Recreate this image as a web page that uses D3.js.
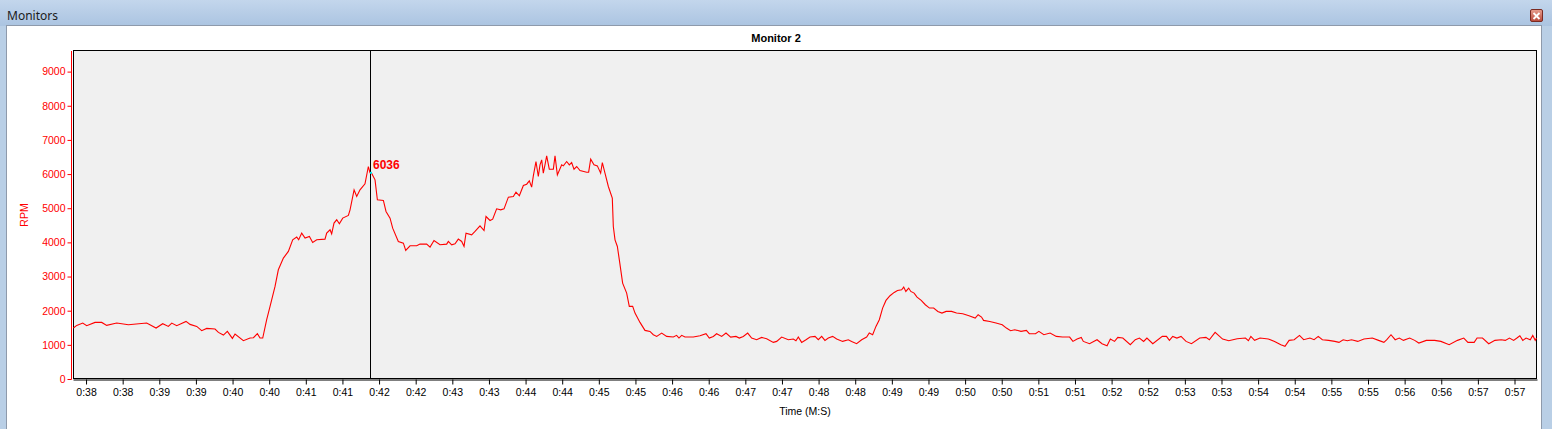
<!DOCTYPE html>
<html><head><meta charset="utf-8">
<script src="https://cdn.jsdelivr.net/npm/d3@7"></script>
<style>html,body{margin:0;padding:0;overflow:hidden;background:#b9cfe6}</style>
</head><body>
<script>
// ---- data ----
const timeSec = [37.827,37.873,37.955,38.009,38.123,38.214,38.282,38.419,38.578,38.828,38.956,39.047,39.124,39.170,39.238,39.365,39.420,39.511,39.579,39.647,39.761,39.807,39.875,39.929,39.998,40.034,40.148,40.239,40.285,40.339,40.375,40.412,40.466,40.512,40.580,40.625,40.694,40.762,40.821,40.876,40.903,40.944,40.990,41.049,41.094,41.149,41.262,41.285,41.331,41.353,41.385,41.422,41.458,41.504,41.581,41.604,41.659,41.695,41.740,41.808,41.854,41.877,41.900,41.945,41.977,42.059,42.095,42.150,42.186,42.263,42.332,42.364,42.423,42.514,42.559,42.650,42.696,42.750,42.832,42.923,42.946,42.991,43.037,43.082,43.128,43.160,43.187,43.264,43.310,
43.378,43.433,43.460,43.515,43.551,43.605,43.660,43.706,43.765,43.833,43.869,43.915,43.970,44.015,44.051,44.083,44.106,44.142,44.174,44.197,44.220,44.242,44.265,44.288,44.324,44.379,44.402,44.434,44.493,44.516,44.561,44.597,44.629,44.661,44.698,44.743,44.834,44.861,44.889,44.934,44.980,45.025,45.048,45.084,45.130,45.184,45.198,45.221,45.253,45.280,45.325,45.380,45.416,45.462,45.494,45.562,45.630,45.698,45.744,45.790,45.858,45.926,46.017,46.062,46.094,46.131,46.176,46.290,46.381,46.463,46.508,46.563,46.608,46.677,46.736,46.800,46.872,46.918,46.972,47.032,47.086,47.154,47.223,47.291,47.382,47.428,47.496,47.587,47.655,47.691,47.723,47.769,47.828,47.883,47.951,47.996,48.042,48.087,48.133,48.192,48.247,48.328,48.406,48.451,48.519,48.588,48.656,48.692,48.738,48.783,48.829,48.874,48.920,
48.975,49.032,49.077,49.134,49.162,49.191,49.230,49.259,49.304,49.344,49.401,49.457,49.514,49.571,49.628,49.684,49.741,49.815,49.883,49.968,50.053,50.138,50.178,50.224,50.252,50.337,50.422,50.507,50.564,50.621,50.678,50.763,50.837,50.876,50.961,51.007,51.075,51.160,51.245,51.330,51.427,51.472,51.529,51.586,51.614,51.699,51.801,51.869,51.938,51.983,52.040,52.085,52.153,52.255,52.323,52.380,52.437,52.482,52.562,52.692,52.749,52.789,52.834,52.891,52.948,53.016,53.090,53.203,53.288,53.334,53.413,53.515,53.600,53.714,53.827,53.867,53.901,53.952,54.026,54.139,54.225,54.310,54.367,54.423,54.492,54.565,54.622,54.707,54.764,54.821,54.877,54.962,55.047,55.104,55.161,55.218,55.275,55.360,55.445,55.559,55.644,55.717,55.757,55.814,55.871,55.927,55.984,56.069,56.137,56.194,56.296,56.410,56.495,56.608,56.722,56.807,56.864,56.949,56.989,57.063,57.148,57.233,57.318,57.375,57.431,57.488,57.533,57.573,57.613,57.658,57.715,57.749,57.783,57.800];
const rpm = [1492,1570,1638,1560,1657,1657,1570,1638,1589,1638,1492,1618,1540,1638,1560,1687,1599,1540,1414,1482,1462,1365,1287,1394,1189,1316,1121,1199,1209,1326,1199,1199,1736,2125,2711,3198,3540,3735,4076,4154,4076,4271,4125,4173,3998,4076,4095,4271,4369,4251,4564,4661,4544,4710,4788,4954,5539,5344,5539,5714,6221,6036,6020,5831,5246,5227,4905,4710,4417,4027,3978,3764,3900,3900,3949,3949,3861,4056,3930,3949,4027,3930,3959,4095,4027,3881,4271,4222,4320,
4485,4348,4758,4641,4680,4982,4953,4982,5324,5343,5470,5363,5665,5704,5801,5616,5948,6367,5928,6270,6416,6026,6270,6533,6143,6143,6533,5977,6270,6240,6367,6270,6338,6143,6221,6104,6055,6055,6435,6270,6240,6026,6338,6026,5636,5294,4466,4075,3880,3490,2808,2515,2125,2125,1930,1657,1423,1394,1296,1247,1345,1247,1228,1277,1199,1277,1228,1228,1267,1325,1199,1247,1325,1247,1345,1228,1247,1199,1247,1345,1199,1150,1218,1179,1072,1101,1228,1150,1169,1120,1228,1072,1150,1228,1247,1150,1247,1130,1199,1247,1169,1101,1150,1101,1033,1150,1228,1345,1296,1540,1735,2076,2301,
2437,2535,2593,2613,2691,2564,2662,2564,2515,2398,2301,2174,2077,2077,1979,1930,1979,1979,1930,1911,1852,1784,1882,1813,1716,1686,1638,1589,1491,1413,1443,1394,1423,1326,1326,1394,1296,1345,1248,1228,1228,1101,1170,1218,1101,1033,1150,1033,975,1170,1101,1218,1199,1004,1150,1199,1101,1199,1033,1248,1248,1131,1248,1199,1248,1101,1033,1199,1218,1150,1365,1170,1121,1179,1199,1121,1248,1131,1199,1170,1101,1004,955,1131,1150,1277,1150,1199,1150,1248,1150,1131,1101,1072,1150,1121,1150,1101,1170,1199,1131,1072,1150,1296,1150,1199,1131,1199,1131,1053,1131,1131,1101,1004,1131,1199,1072,1072,1199,1199,1033,1131,1150,1131,1199,1131,1199,1267,1131,1199,1150,1277,1131,1199];
const yTickValues = [0,1000,2000,3000,4000,5000,6000,7000,8000,9000];
const xTickValues = [38.0,38.5,39.0,39.5,40.0,40.5,41.0,41.5,42.0,42.5,43.0,43.5,44.0,44.5,45.0,45.5,46.0,46.5,47.0,47.5,48.0,48.5,49.0,49.5,50.0,50.5,51.0,51.5,52.0,52.5,53.0,53.5,54.0,54.5,55.0,55.5,56.0,56.5,57.0,57.5];
const xDomain = [37.822, 57.807];
const cursorTime = 41.877;
const cursorValue = 6036;
const windowTitle = "Monitors";
const chartTitle = "Monitor 2";
const yLabel = "RPM";
const xLabel = "Time (M:S)";

// ---- drawing ----
(function(){
const W = 1552, H = 429;
const svg = d3.select("body").append("svg").attr("width", W).attr("height", H)
  .style("display","block");
const defs = svg.append("defs");
const g1 = defs.append("linearGradient").attr("id","tb").attr("x1",0).attr("y1",0).attr("x2",0).attr("y2",1);
g1.append("stop").attr("offset","0%").attr("stop-color","#c3d6ec");
g1.append("stop").attr("offset","100%").attr("stop-color","#abc4e1");
const g2 = defs.append("linearGradient").attr("id","cb").attr("x1",0).attr("y1",0).attr("x2",0).attr("y2",1);
g2.append("stop").attr("offset","0%").attr("stop-color","#e8a090");
g2.append("stop").attr("offset","100%").attr("stop-color","#b8483a");

svg.append("rect").attr("x",0).attr("y",0).attr("width",W).attr("height",H).attr("fill","#b9cfe6");
svg.append("rect").attr("x",0).attr("y",0).attr("width",W).attr("height",26).attr("fill","url(#tb)");
svg.append("text").attr("x",7).attr("y",19.5).attr("font-family","'Noto Sans', 'DejaVu Sans', sans-serif")
  .attr("font-size",12).attr("fill","#1b1b1b").text(windowTitle);
// close button
svg.append("rect").attr("x",1530.5).attr("y",9.5).attr("width",12).attr("height",12).attr("rx",1.5)
  .attr("fill","url(#cb)").attr("stroke","#7a2a22");
svg.append("path").attr("d","M1533.5,13 L1539.5,19 M1539.5,13 L1533.5,19")
  .attr("stroke","#fff").attr("stroke-width",1.8);
// white panel
svg.append("rect").attr("x",6.5).attr("y",25.5).attr("width",1535).attr("height",410)
  .attr("fill","#fff").attr("stroke","#8e9aab");

const pL = 73, pR = 1537, pT = 50, pB = 379;
const x = d3.scaleLinear().domain(xDomain).range([pL, pR]);
const y = d3.scaleLinear().domain([0, 9000]).range([379, 71.6]);

svg.append("text").attr("x",(pL+pR)/2 - 29).attr("y",42).attr("text-anchor","middle")
  .attr("font-family","'Liberation Sans', Arial, sans-serif").attr("font-weight","bold")
  .attr("font-size",11).attr("fill","#000").text(chartTitle);

svg.append("rect").attr("x",pL+0.5).attr("y",pT+0.5).attr("width",pR-pL-1).attr("height",pB-pT-1)
  .attr("fill","#f0f0f0").attr("stroke","#000").attr("stroke-width",1);

// y axis (red)
const yAxis = d3.axisLeft(y).tickValues(yTickValues).tickSize(4).tickSizeOuter(0).tickPadding(2)
  .tickFormat(d3.format("d"));
const ya = svg.append("g").attr("transform","translate(71.5,0)").call(yAxis);
ya.select(".domain").attr("stroke","#ff0000").attr("d","M0,51V379.5");
ya.selectAll(".tick line").attr("stroke","#ff0000");
ya.selectAll(".tick text").attr("fill","#ff0000").attr("font-size",10.5)
  .attr("font-family","'Liberation Sans', Arial, sans-serif");
svg.append("text").attr("transform","translate(28,215) rotate(-90)").attr("text-anchor","middle")
  .attr("font-family","'Liberation Sans', Arial, sans-serif").attr("font-size",10.5).attr("fill","#ff0000").text(yLabel);

// x axis (black)
const xAxis = d3.axisBottom(x).tickValues(xTickValues).tickSize(5).tickSizeOuter(0).tickPadding(4)
  .tickFormat(d => "0:" + Math.floor(d));
const xa = svg.append("g").attr("transform","translate(0,379.5)").call(xAxis);
xa.select(".domain").attr("stroke","#000");
xa.selectAll(".tick line").attr("stroke","#000");
xa.selectAll(".tick text").attr("fill","#000").attr("font-size",10.5)
  .attr("font-family","'Liberation Sans', Arial, sans-serif");
svg.append("text").attr("x",(pL+pR)/2).attr("y",415).attr("text-anchor","middle")
  .attr("font-family","'Liberation Sans', Arial, sans-serif").attr("font-size",10.5).attr("fill","#000").text(xLabel);

// series
const pts = timeSec.map((t,i)=>[t, rpm[i]]);
svg.append("path").datum(pts).attr("fill","none").attr("stroke","#ff0000").attr("stroke-width",1.1)
  .attr("d", d3.line().x(d=>x(d[0])).y(d=>y(d[1])));

// cursor
const cx = Math.round(x(cursorTime)) + 0.5;
svg.append("line").attr("x1",cx).attr("x2",cx).attr("y1",pT).attr("y2",pB).attr("stroke","#000").attr("stroke-width",1);
svg.append("rect").attr("x",cx-0.5).attr("y",y(cursorValue)-1).attr("width",2).attr("height",2).attr("fill","#00e5ee");
svg.append("text").attr("x",cx+2.5).attr("y",y(cursorValue)-4).attr("font-family","'Liberation Sans', Arial, sans-serif")
  .attr("font-weight","bold").attr("font-size",12).attr("fill","#ff0000").text(cursorValue);
})();
</script>
</body></html>
